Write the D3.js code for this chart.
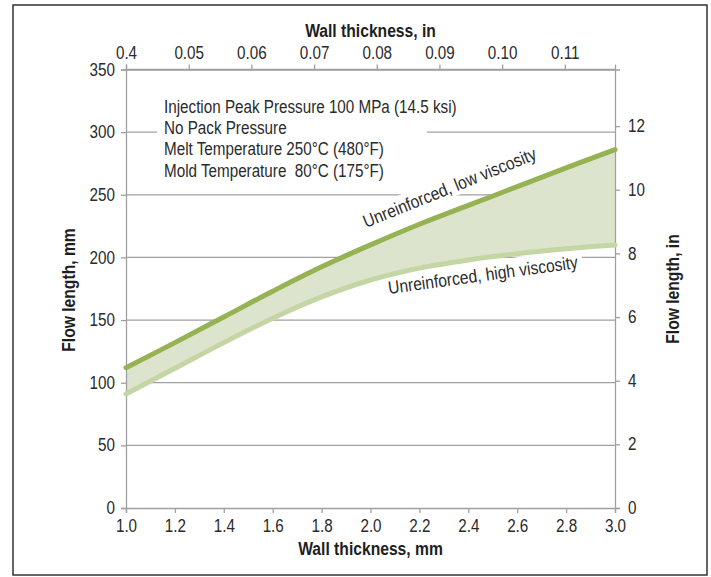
<!DOCTYPE html>
<html>
<head>
<meta charset="utf-8">
<script src="https://cdn.jsdelivr.net/npm/d3@7"></script>
<style>
  html, body { margin: 0; padding: 0; background: #fff; }
  svg { display: block; }
  text { font-family: "Liberation Sans", Arial, sans-serif; fill: #2b2b2b; }
  .title { font-weight: bold; font-size: 18px; fill: #1e1e1e; }
</style>
</head>
<body>
<svg id="chart" width="711" height="577"></svg>
<script>
// ---- data ----
const thicknessMm = [1.0, 1.2, 1.4, 1.6, 1.8, 2.0, 2.2, 2.4, 2.6, 2.8, 3.0];
const lowViscosity = [112, 132, 152.5, 173, 192.5, 210, 226.5, 241.5, 256.5, 271.5, 286];
const highViscosity = [91, 111.5, 132, 151.5, 168.5, 182, 191.5, 198, 203, 207, 210];
const yTicksMm = [0, 50, 100, 150, 200, 250, 300, 350];
const yTicksIn = [0, 2, 4, 6, 8, 10, 12];
const xTicksMm = [1.0, 1.2, 1.4, 1.6, 1.8, 2.0, 2.2, 2.4, 2.6, 2.8, 3.0];
const xTicksIn = [0.04, 0.05, 0.06, 0.07, 0.08, 0.09, 0.10, 0.11];
const xTickLabelsIn = ["0.4", "0.05", "0.06", "0.07", "0.08", "0.09", "0.10", "0.11"];
const conditions = [
  "Injection Peak Pressure 100 MPa (14.5 ksi)",
  "No Pack Pressure",
  "Melt Temperature 250°C (480°F)",
  "Mold Temperature  80°C (175°F)"
];
const seriesLabels = ["Unreinforced, low viscosity", "Unreinforced, high viscosity"];

// ---- layout ----
const L = 126, R = 615, T = 69.5, B = 508;
const SX = 0.87; // horizontal condensing of the font
const svg = d3.select("#chart");
const gridColor = "#a0a0a0";

const x = d3.scaleLinear().domain([1, 3]).range([L, R]);
const xIn = d3.scaleLinear().domain([0.04, 0.118]).range([L, R]);
const y = d3.scaleLinear().domain([0, 350]).range([B, T]);
const yIn = d3.scaleLinear().domain([0, 350 / 25.4]).range([B, T]);

// outer frame
svg.append("rect").attr("x", 13).attr("y", 5).attr("width", 694).attr("height", 570)
  .attr("fill", "none").attr("stroke", "#333").attr("stroke-width", 1.5);

// gridlines
svg.append("g").selectAll("line").data(yTicksMm.filter(d => d > 0)).join("line")
  .attr("x1", L).attr("x2", R).attr("y1", d => y(d)).attr("y2", d => y(d))
  .attr("stroke", gridColor).attr("stroke-width", 1.3);

// white backgrounds for texts (cover gridlines)
svg.append("rect").attr("x", 157).attr("y", 92).attr("width", 270).attr("height", 88).attr("fill", "#fff");

const lowLab = { x: 366, y: 228, a: -22 };
const highLab = { x: 389, y: 294, a: -7.8 };
svg.append("rect").attr("transform", `translate(${lowLab.x},${lowLab.y}) rotate(${lowLab.a})`)
  .attr("x", -4).attr("y", -18).attr("width", 196).attr("height", 22).attr("fill", "#fff");
svg.append("rect").attr("transform", `translate(${highLab.x},${highLab.y}) rotate(${highLab.a})`)
  .attr("x", -4).attr("y", -19).attr("width", 200).attr("height", 24).attr("fill", "#fff");

// band fill
const curve = d3.curveCatmullRom.alpha(0.5);
const pts = thicknessMm.map((t, i) => ({ t, lo: lowViscosity[i], hi: highViscosity[i] }));
const area = d3.area().x(d => x(d.t)).y0(d => y(d.hi)).y1(d => y(d.lo)).curve(curve);
svg.append("path").datum(pts).attr("d", area).attr("fill", "#dce4cd");

// axes
function styleAxis(g) {
  g.select(".domain").attr("stroke", gridColor).attr("stroke-width", 1.3);
  g.selectAll(".tick line").attr("stroke", gridColor).attr("stroke-width", 1.3);
  g.selectAll(".tick text").attr("font-size", 17.5).attr("fill", "#2b2b2b")
    .attr("font-family", '"Liberation Sans", Arial, sans-serif')
    .attr("x", function () { return (+d3.select(this).attr("x") || 0) / SX; })
    .attr("transform", `scale(${SX},1)`);
}
svg.append("g").attr("transform", `translate(0,${B})`)
  .call(d3.axisBottom(x).tickValues(xTicksMm).tickFormat(d3.format(".1f")).tickSizeOuter(0).tickSize(5).tickPadding(7))
  .call(styleAxis);
svg.append("g").attr("transform", `translate(0,${T})`)
  .call(d3.axisTop(xIn).tickValues(xTicksIn).tickFormat((d, i) => xTickLabelsIn[i]).tickSizeOuter(0).tickSize(5).tickPadding(6))
  .call(styleAxis);
svg.append("g").attr("transform", `translate(${L},0)`)
  .call(d3.axisLeft(y).tickValues(yTicksMm).tickSizeOuter(0).tickSize(5).tickPadding(6))
  .call(styleAxis);
svg.append("g").attr("transform", `translate(${R},0)`)
  .call(d3.axisRight(yIn).tickValues(yTicksIn).tickSizeOuter(0).tickSize(5).tickPadding(8))
  .call(styleAxis);

// lines
const line = d3.line().x((d, i) => x(thicknessMm[i])).y(d => y(d)).curve(curve);
svg.append("path").datum(highViscosity).attr("d", line).attr("fill", "none")
  .attr("stroke", "#c4d6a4").attr("stroke-width", 5).attr("stroke-linecap", "round");
svg.append("path").datum(lowViscosity).attr("d", line).attr("fill", "none")
  .attr("stroke", "#97b253").attr("stroke-width", 5).attr("stroke-linecap", "round");

// helper for condensed text
function ctext(sel, tx, ty, rot, size, str, anchor, cls) {
  const t = sel.append("text")
    .attr("transform", `translate(${tx},${ty}) rotate(${rot || 0}) scale(${SX},1)`)
    .attr("font-size", size).attr("text-anchor", anchor || "start")
    .attr("xml:space", "preserve").style("white-space", "pre").text(str);
  if (cls) t.attr("class", cls);
  return t;
}

// series labels
ctext(svg, lowLab.x, lowLab.y, lowLab.a, 18, seriesLabels[0]);
ctext(svg, highLab.x, highLab.y, highLab.a, 18, seriesLabels[1]);

// conditions text
conditions.forEach((c, i) => ctext(svg, 164, 113 + i * 21.2, 0, 17.5, c));

// titles
ctext(svg, 370.5, 37, 0, 18, "Wall thickness, in", "middle", "title");
ctext(svg, 370.5, 555, 0, 18, "Wall thickness, mm", "middle", "title");
ctext(svg, 75, 290, -90, 18, "Flow length, mm", "middle", "title");
ctext(svg, 679, 289, -90, 18, "Flow length, in", "middle", "title");
</script>
</body>
</html>
